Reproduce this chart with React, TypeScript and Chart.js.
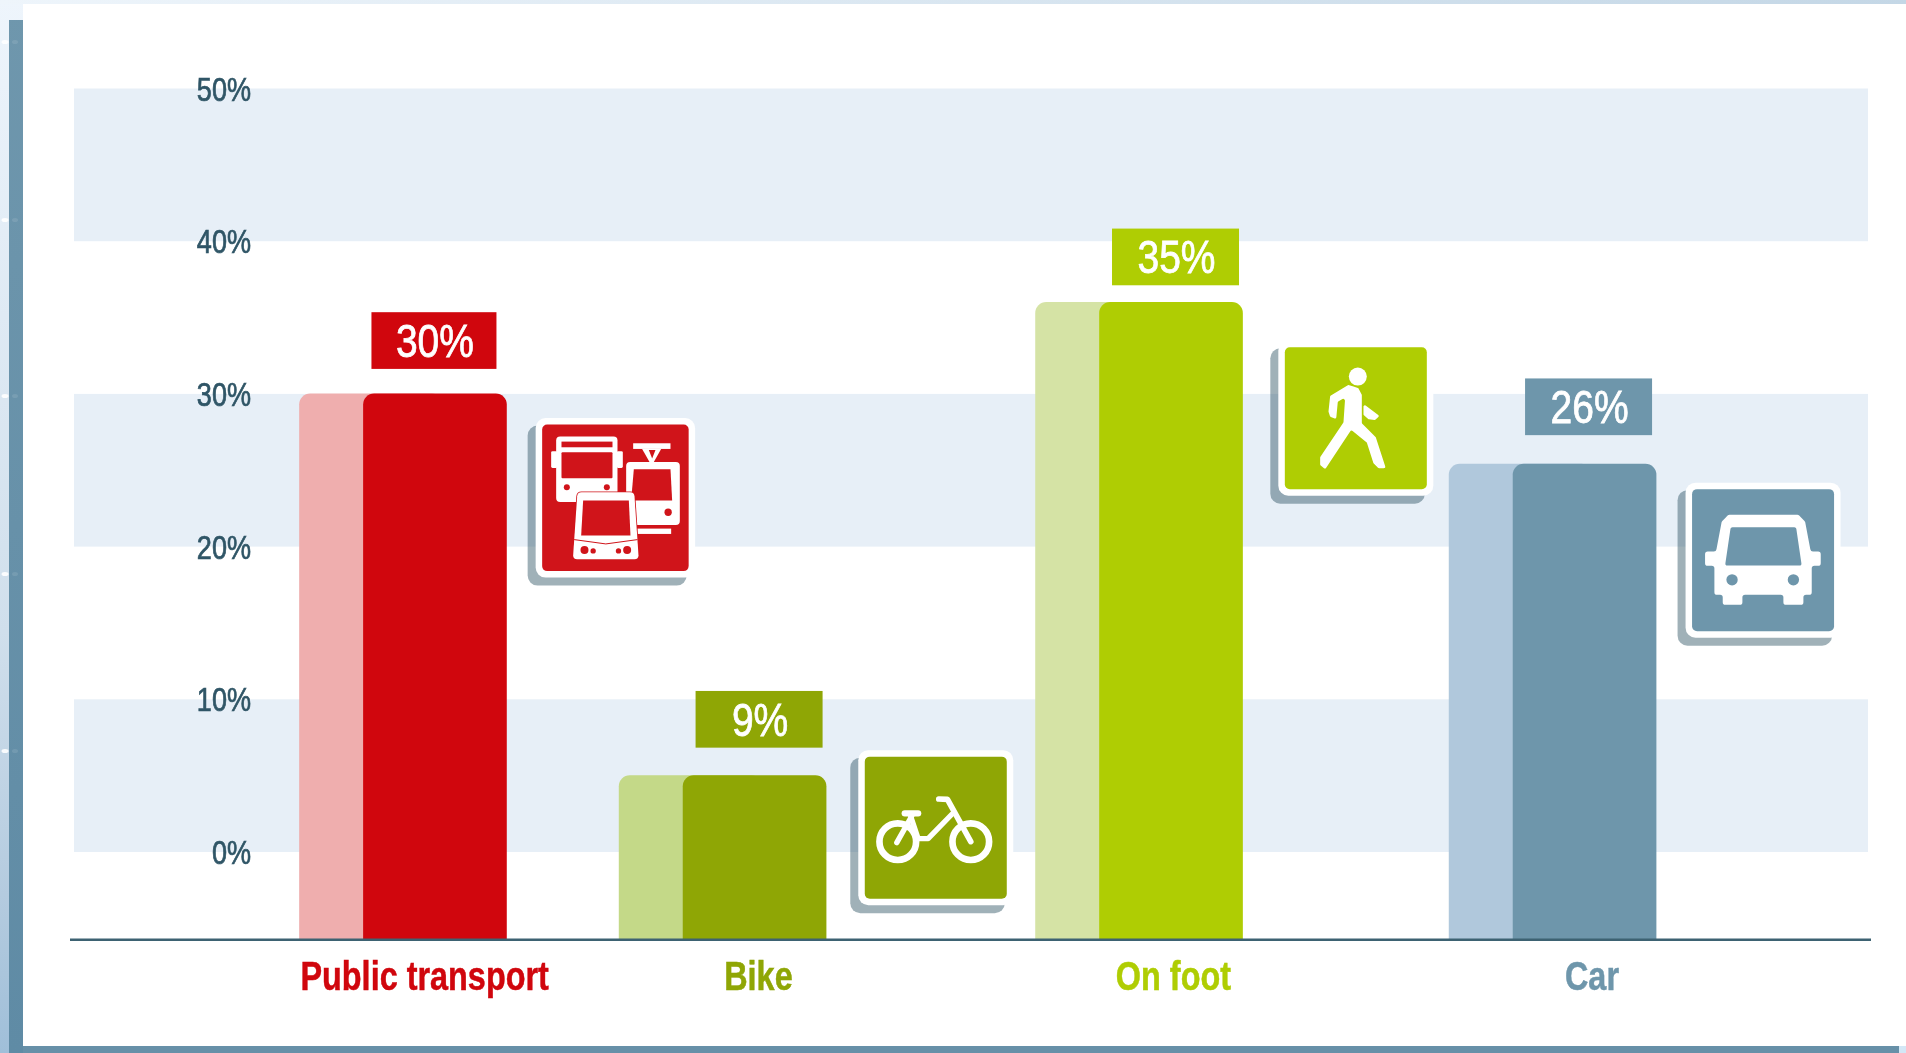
import React, { useEffect, useRef } from "react";
import { Chart, registerables } from "chart.js";

Chart.register(...registerables);

const categories = ["Public transport", "Bike", "On foot", "Car"];
const statedShares = ["30%", "9%", "35%", "26%"];
const barHeights = [30, 5, 36, 25.4];
const yTicks = [0, 10, 20, 30, 40, 50];
const barSlots = [10.86, 30.7, 56.55, 82.22];
const labelSlots = [10.22, 30.94, 56.7, 82.68];
const backShift = 3.97;
const frontColors = ["#d0060d", "#8fa605", "#afcd03", "#6e96ab"];
const backColors = ["#efaeae", "#c4d988", "#d5e3a5", "#b0c8dc"];
const iconColors = ["#d0141a", "#8fa605", "#afcd03", "#6e96ab"];

const FONT = '"Liberation Sans", Arial, sans-serif';
const AXIS_MIN = -5.73;
const BAND = "#e7eff7";
const INK = "#2f5566";
const W = 1906;
const H = 1053;

// pill placement relative to the top of each front bar
const pillDx = [-1, 4.5, 4.5, 4];
const pillGap = [25, 28, 17, 29];
const pillW = [125, 127, 127, 127];
// icon placement relative to the top right of each front bar
const iconDx = [35.7, 38.7, 42.3, 36];
const iconDy = [30.7, -19, 45, 25];
const iconSize = [146.5, 142, 142, 142];
const sideDots = [42, 220, 396, 574, 751];

type Ctx = CanvasRenderingContext2D;

function rr(c: Ctx, x: number, y: number, w: number, h: number, r: number) {
  c.beginPath();
  c.roundRect(x, y, w, h, r);
}

function poly(c: Ctx, pts: number[][], fill: string) {
  c.beginPath();
  pts.forEach((p, i) => (i ? c.lineTo(p[0], p[1]) : c.moveTo(p[0], p[1])));
  c.closePath();
  c.fillStyle = fill;
  c.fill();
}

function softPoly(c: Ctx, pts: number[][], r: number, fill: string) {
  const n = pts.length;
  const a = pts[n - 1];
  const b = pts[0];
  c.beginPath();
  c.moveTo((a[0] + b[0]) / 2, (a[1] + b[1]) / 2);
  for (let i = 0; i < n; i++) {
    const p = pts[i];
    const q = pts[(i + 1) % n];
    c.arcTo(p[0], p[1], (p[0] + q[0]) / 2, (p[1] + q[1]) / 2, r);
  }
  c.closePath();
  c.fillStyle = fill;
  c.fill();
}

function dot(c: Ctx, x: number, y: number, r: number, fill: string) {
  c.beginPath();
  c.arc(x, y, r, 0, Math.PI * 2);
  c.fillStyle = fill;
  c.fill();
}

function seg(c: Ctx, pts: number[][], w: number) {
  c.beginPath();
  pts.forEach((p, i) => (i ? c.lineTo(p[0], p[1]) : c.moveTo(p[0], p[1])));
  c.lineWidth = w;
  c.strokeStyle = "#fff";
  c.lineCap = "round";
  c.lineJoin = "round";
  c.stroke();
}

// Glyphs are expressed in 1/3 pixel units from the inner tile's top-left.
function transportGlyph(c: Ctx, bg: string) {
  // bus
  c.fillStyle = "#fff";
  rr(c, 42, 36, 184, 196, 12);
  c.fill();
  rr(c, 27, 80, 18, 50, 4);
  c.fill();
  rr(c, 224, 80, 18, 50, 4);
  c.fill();
  c.fillStyle = bg;
  c.fillRect(58, 51, 153, 17);
  rr(c, 58, 83, 153, 78, 3);
  c.fill();
  dot(c, 74, 188, 9, bg);
  dot(c, 194, 188, 9, bg);
  // tram
  c.fillStyle = "#fff";
  c.fillRect(273, 56, 112, 17);
  poly(c, [[300, 73], [357, 73], [335, 112], [322, 112]], "#fff");
  poly(c, [[320, 76], [340, 76], [330, 102]], bg);
  dot(c, 330, 121, 4, "#fff");
  rr(c, 252, 112, 161, 189, 12);
  c.fillStyle = "#fff";
  c.fill();
  poly(c, [[275, 134], [385, 134], [390, 228], [267, 228]], bg);
  dot(c, 378, 263, 11, bg);
  c.fillStyle = "#fff";
  c.fillRect(285, 312, 102, 16);
  // front bus
  c.beginPath();
  c.moveTo(118, 203);
  c.lineTo(264, 203);
  c.quadraticCurveTo(276, 203, 277, 215);
  c.lineTo(289, 392);
  c.quadraticCurveTo(289, 404, 277, 404);
  c.lineTo(105, 404);
  c.quadraticCurveTo(93, 404, 93, 392);
  c.lineTo(105, 215);
  c.quadraticCurveTo(106, 203, 118, 203);
  c.closePath();
  c.fillStyle = "#fff";
  c.strokeStyle = bg;
  c.lineWidth = 5;
  c.stroke();
  c.fill();
  poly(c, [[123, 228], [260, 228], [265, 333], [117, 333]], bg);
  c.strokeStyle = bg;
  c.lineWidth = 3;
  c.beginPath();
  c.moveTo(96, 345);
  c.lineTo(191, 358);
  c.lineTo(286, 345);
  c.stroke();
  dot(c, 127, 376, 12, bg);
  dot(c, 153, 379, 8, bg);
  dot(c, 229, 379, 8, bg);
  dot(c, 255, 376, 12, bg);
}

function bikeGlyph(c: Ctx) {
  c.beginPath();
  c.arc(99, 255, 55, 0, Math.PI * 2);
  c.moveTo(373, 255);
  c.arc(318, 255, 55, 0, Math.PI * 2);
  c.lineWidth = 20;
  c.strokeStyle = "#fff";
  c.stroke();
  seg(c, [[96, 258], [141, 178]], 16);
  seg(c, [[318, 255], [248, 128], [222, 127]], 17);
  seg(c, [[262, 172], [190, 246], [160, 246], [138, 180]], 16);
  seg(c, [[120, 170], [160, 170]], 19);
}

function walkerGlyph(c: Ctx) {
  dot(c, 219, 88, 27, "#fff");
  const pts = [[191, 113], [136, 146], [131, 193], [136, 208], [154, 216], [159, 163], [181, 151], [176, 225], [106, 330], [106, 353], [121, 366], [199, 248], [246, 286], [266, 348], [281, 363], [303, 363], [273, 270], [231, 228], [231, 143], [221, 123]];
  softPoly(c, pts, 5, "#fff");
  softPoly(c, [[236, 170], [284, 206], [271, 218], [251, 216], [236, 203]], 4, "#fff");
}

function carGlyph(c: Ctx, bg: string) {
  const pts = [[109, 77], [319, 77], [339, 97], [356, 187], [386, 187], [386, 230], [359, 230], [359, 317], [334, 317], [334, 347], [274, 347], [274, 317], [151, 317], [151, 347], [92, 347], [92, 317], [67, 317], [67, 230], [39, 230], [39, 187], [72, 187], [89, 97]];
  softPoly(c, pts, 8, "#fff");
  softPoly(c, [[116, 114], [312, 114], [329, 229], [99, 229]], 6, bg);
  dot(c, 120, 272, 17, bg);
  dot(c, 304, 272, 17, bg);
}

const decorPlugin = {
  id: "decor",
  beforeDraw(chart: any) {
    const c: Ctx = chart.ctx;
    const g = c.createLinearGradient(0, 0, W, 0);
    g.addColorStop(0, "#eef5fb");
    g.addColorStop(1, "#c4d7e6");
    c.save();
    c.fillStyle = g;
    c.fillRect(0, 0, W, H);
    c.fillStyle = "#d3e7f6";
    c.fillRect(1899, 1046, 7, 7);
    const left = c.createLinearGradient(0, 0, 0, H);
    left.addColorStop(0, "#eef5fc");
    left.addColorStop(0.6, "#d0dfec");
    left.addColorStop(0.85, "#b4cbdf");
    left.addColorStop(1, "#a0bfd9");
    c.fillStyle = left;
    c.fillRect(0, 4, 23, H);
    const edge = c.createLinearGradient(0, 0, 0, H);
    edge.addColorStop(0, "#6f97ad");
    edge.addColorStop(1, "#5f8ba5");
    c.fillStyle = edge;
    c.fillRect(9, 20, 14, 1033);
    c.fillStyle = "#6790a8";
    c.fillRect(23, 1046, 1876, 7);
    sideDots.forEach((y) => {
      c.fillStyle = "rgba(255,255,255,0.9)";
      c.beginPath();
      c.ellipse(5, y, 3.5, 2, 0, 0, Math.PI * 2);
      c.fill();
      c.fillStyle = "rgba(255,255,255,0.1)";
      c.beginPath();
      c.ellipse(15, y, 3, 2, 0, 0, Math.PI * 2);
      c.fill();
    });
    c.fillStyle = "#fff";
    c.fillRect(23, 4, W - 23, 1042);
    const y = chart.scales.y;
    c.fillStyle = BAND;
    for (let v = 0; v < 50; v += 20) {
      const top = y.getPixelForValue(v + 10);
      c.fillRect(74, top, 1794, y.getPixelForValue(v) - top);
    }
    c.restore();
  },
  afterDatasetsDraw(chart: any) {
    const c: Ctx = chart.ctx;
    const base = chart.scales.y.getPixelForValue(AXIS_MIN);
    const front = chart.getDatasetMeta(1).data;
    c.save();
    c.fillStyle = "#3d6272";
    c.fillRect(70, base - 1, 1801, 2.5);
    front.forEach((bar: any, i: number) => {
      const right = bar.x + bar.width / 2;
      // value pill
      const pw = pillW[i];
      const ph = 56.7;
      const pillX = bar.x + pillDx[i] - pw / 2;
      const pillB = bar.y - pillGap[i];
      c.fillStyle = frontColors[i];
      c.fillRect(pillX, pillB - ph, pw, ph);
      c.fillStyle = "#fff";
      c.strokeStyle = "#fff";
      c.lineWidth = 0.8;
      c.font = `47px ${FONT}`;
      c.textAlign = "center";
      c.textBaseline = "alphabetic";
      c.save();
      c.translate(pillX + pw / 2 + 1, pillB - 12);
      c.scale(0.83, 1);
      c.fillText(statedShares[i], 0, 0);
      c.strokeText(statedShares[i], 0, 0);
      c.restore();
      // icon tile
      const x = right + iconDx[i];
      const yy = bar.y + iconDy[i];
      const s = iconSize[i];
      c.fillStyle = "rgba(48,85,100,0.46)";
      rr(c, x - 14.5, yy + 1, s + 12.5, s + 13.5, 10);
      c.fill();
      c.fillStyle = "#fff";
      rr(c, x - 6.5, yy - 6.5, s + 13, s + 13, 10);
      c.fill();
      c.fillStyle = iconColors[i];
      rr(c, x, yy, s, s, 5);
      c.fill();
      c.save();
      c.translate(x, yy);
      c.scale(1 / 3, 1 / 3);
      if (i === 0) transportGlyph(c, iconColors[i]);
      if (i === 1) bikeGlyph(c);
      if (i === 2) walkerGlyph(c);
      if (i === 3) carGlyph(c, iconColors[i]);
      c.restore();
    });
    c.restore();
  },
};

// The source lettering is a condensed face; narrow the tick text as the scale paints it.
function narrowLabels(s: any, k: number, dy: number, heavier: number) {
  if (s.$narrow) return;
  s.$narrow = true;
  const paint = s.drawLabels;
  s.drawLabels = function (area: any) {
    const c = this.ctx;
    const fill = c.fillText;
    c.fillText = function (t: string, x: number, y: number) {
      c.save();
      c.translate(x, y + dy);
      c.scale(k, 1);
      fill.call(c, t, 0, 0);
      c.strokeStyle = c.fillStyle;
      c.lineWidth = heavier;
      c.strokeText(t, 0, 0);
      c.restore();
    };
    paint.call(this, area);
    delete c.fillText;
  };
}

export default function App() {
  const ref = useRef<HTMLCanvasElement>(null);
  useEffect(() => {
    const corner = { topLeft: 11, topRight: 11, bottomLeft: 0, bottomRight: 0 };
    const chart = new Chart(ref.current as HTMLCanvasElement, {
      type: "bar",
      data: {
        datasets: [
          {
            label: "Back",
            data: barHeights.map((v, i) => ({ x: barSlots[i] - backShift, y: v })),
            backgroundColor: backColors,
            borderRadius: corner,
            borderSkipped: false,
            base: AXIS_MIN,
            barThickness: 143,
            grouped: false,
            order: 2,
          },
          {
            label: "Share",
            data: barHeights.map((v, i) => ({ x: barSlots[i], y: v })),
            backgroundColor: frontColors,
            borderRadius: corner,
            borderSkipped: false,
            base: AXIS_MIN,
            barThickness: 143,
            grouped: false,
            order: 1,
          },
        ],
      } as any,
      options: {
        responsive: false,
        animation: false,
        devicePixelRatio: 1,
        layout: { padding: { top: 88.5, right: 35, bottom: 0, left: 0 } },
        plugins: { legend: { display: false }, tooltip: { enabled: false }, title: { display: false } },
        scales: {
          x: {
            type: "linear",
            offset: false,
            min: 0,
            max: 100,
            bounds: "data",
            grid: { display: false, drawTicks: false },
            border: { display: false },
            afterBuildTicks: (s: any) => {
              s.ticks = labelSlots.map((value) => ({ value }));
            },
            afterFit: (s: any) => {
              s.height = 113.5;
              narrowLabels(s, 0.81, 0, 0.5);
            },
            ticks: {
              autoSkip: false,
              maxRotation: 0,
              padding: 15,
              font: { family: FONT, size: 40, weight: "bold" },
              color: (ctx: any) => frontColors[ctx.index],
              callback: (_v: any, i: number) => categories[i],
            },
          },
          y: {
            type: "linear",
            min: AXIS_MIN,
            max: 50,
            bounds: "data",
            grid: { display: false, drawTicks: false },
            border: { display: false },
            afterBuildTicks: (s: any) => {
              s.ticks = yTicks.map((value) => ({ value }));
            },
            afterFit: (s: any) => {
              s.width = 260;
              narrowLabels(s, 0.82, 3, 0.7);
            },
            ticks: {
              padding: 9,
              font: { family: FONT, size: 33 },
              color: INK,
              callback: (v: any) => `${v}%`,
            },
          },
        },
      } as any,
      plugins: [decorPlugin as any],
    });
    return () => chart.destroy();
  }, []);
  return (
    <div style={{ position: "fixed", left: 0, top: 0, width: W, height: H, overflow: "hidden" }}>
      <canvas ref={ref} width={W} height={H} style={{ display: "block" }} />
    </div>
  );
}
